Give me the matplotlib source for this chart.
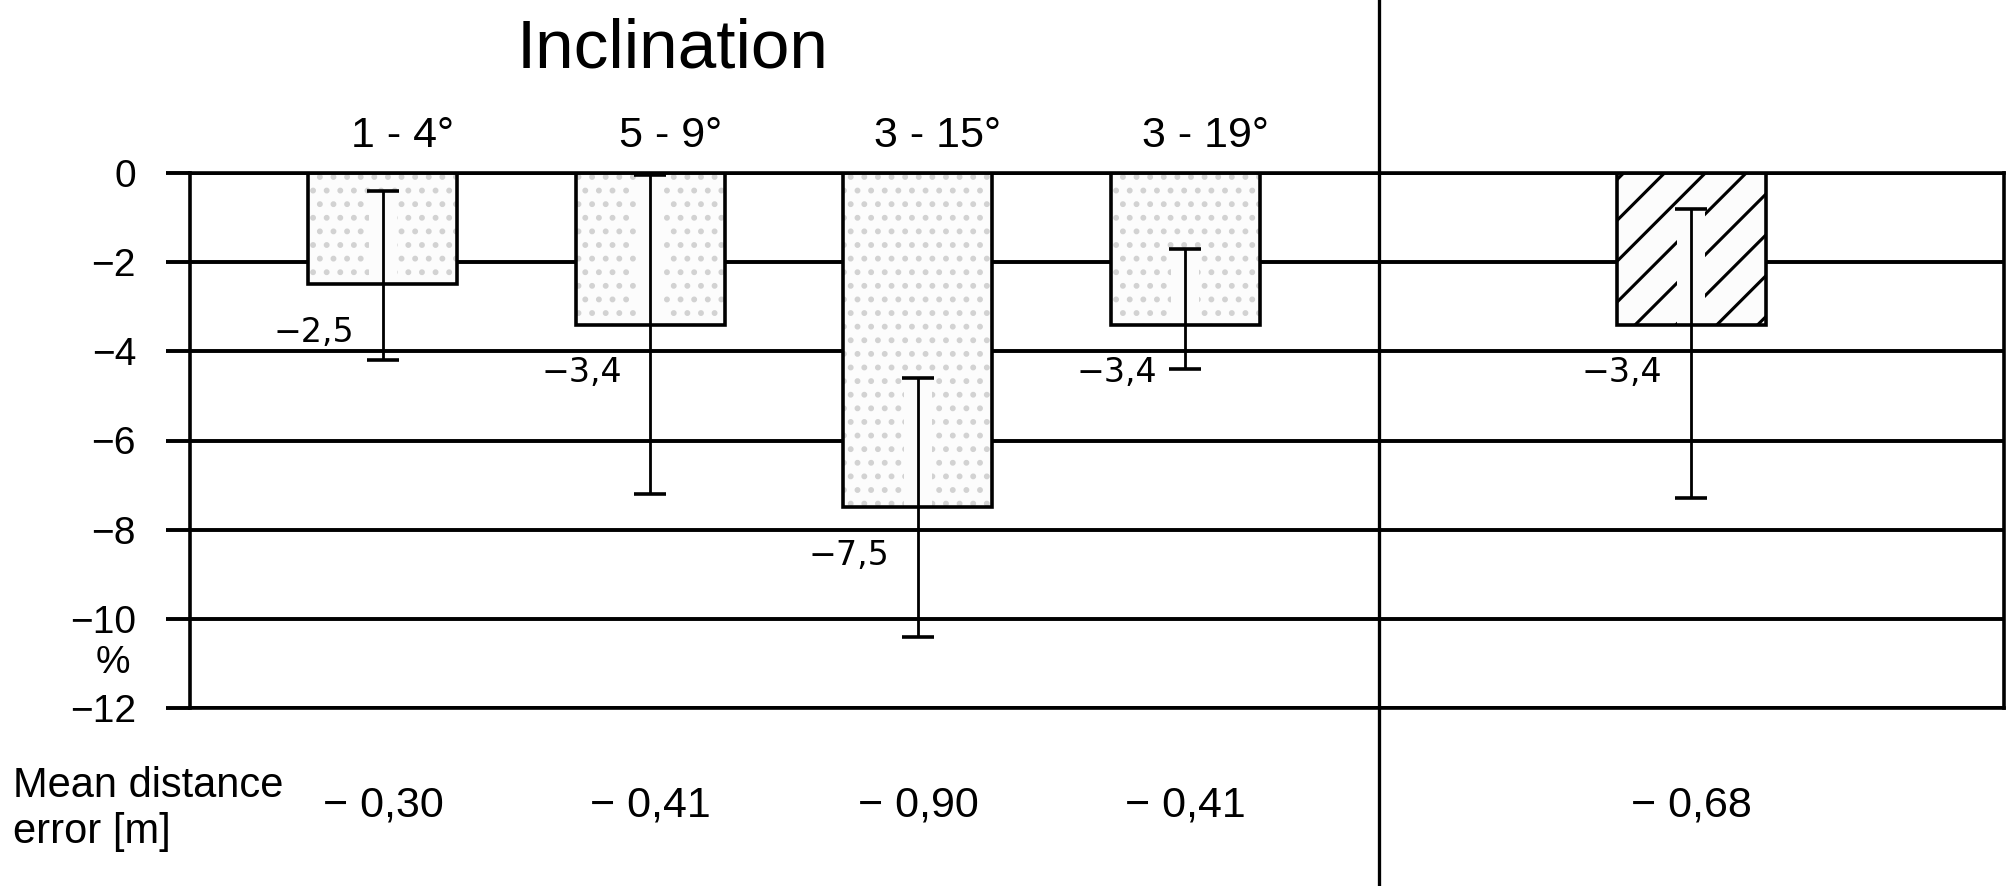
import numpy as np
import matplotlib
matplotlib.use("Agg")
import matplotlib.pyplot as plt
from matplotlib.transforms import blended_transform_factory

# ---- data ----
categories = ["1 - 4°", "5 - 9°", "3 - 15°", "3 - 19°", ""]
bar_values = [-2.5, -3.4, -7.5, -3.4, -3.4]
err_top = [-0.4, -0.05, -4.6, -1.7, -0.8]
err_bottom = [-4.2, -7.2, -10.4, -4.4, -7.3]
mean_distance = [-0.30, -0.41, -0.90, -0.41, -0.68]
y_ticks = [0, -2, -4, -6, -8, -10, -12]

# ---- style / layout (sizes given in pixels, converted to points) ----
DPI = 245


def P(px):
    return px * 72.0 / DPI


plt.rcParams['font.family'] = ['Liberation Sans', 'DejaVu Sans']
plt.rcParams['hatch.linewidth'] = P(3.1)
plt.rcParams['axes.linewidth'] = P(3.6)

fig = plt.figure(figsize=(2010 / DPI, 886 / DPI), dpi=DPI)
fig.patch.set_facecolor('white')
ax = fig.add_axes([190 / 2010, 1 - 708 / 886, (2004 - 190) / 2010, (708 - 173) / 886])

x = np.array([0, 1, 2, 3, 4.89])
width = 0.557
face = '#fcfcfc'

vals = np.array(bar_values)
et = np.array(err_top)
eb = np.array(err_bottom)

# dotted bars
ax.bar(x[:4], vals[:4], width=width, color=face, edgecolor='#d2d2d2',
       linewidth=0, hatch='...', zorder=2)
# hatched bar
ax.bar(x[4:], vals[4:], width=width, color=face, edgecolor='black',
       linewidth=0, hatch='//', zorder=2)
# halo around error bars inside bars
ax.vlines(x, np.maximum(vals, eb), et, colors=face, lw=P(28), zorder=2.5)
# outlines
ax.bar(x, vals, width=width, fill=False, edgecolor='black', linewidth=P(3.6), zorder=3)

# error bars
ax.errorbar(x, vals, yerr=[vals - eb, et - vals], fmt='none', ecolor='black',
            elinewidth=P(2.8), capsize=P(16), capthick=P(3.6), zorder=4)

# value labels
for xi, v in zip(x, bar_values):
    txt = f"{v:.1f}".replace('.', ',').replace('-', '\u2212')
    ax.annotate(txt, (xi, v), xytext=(P(-69), P(-48)), textcoords='offset points',
                ha='center', va='center', fontsize=P(33.3), family='DejaVu Sans', zorder=5)

# category labels above axes
for xi, c in zip(x, categories):
    if c:
        ax.annotate(c, (xi, 0), xytext=(P(20), P(173 - 147)), textcoords='offset points',
                    ha='center', va='baseline', fontsize=P(43), annotation_clip=False)

# axes styling
ax.set_xlim(-0.7215, 6.06)
ax.set_ylim(-12, 0)
ax.set_yticks(y_ticks)
ax.set_yticklabels([str(t).replace('-', '\u2212') for t in y_ticks])
ax.set_xticks([])
ax.yaxis.grid(True, color='black', linewidth=P(3.9))
ax.set_axisbelow(True)
ax.tick_params(axis='y', direction='out', length=P(24), width=P(3.9), pad=P(30),
               labelsize=P(38.9))
for s in ax.spines.values():
    s.set_color('black')
    s.set_linewidth(P(3.6))

# vertical separator across the whole figure
bt = blended_transform_factory(ax.transData, fig.transFigure)
ax.plot([3.723, 3.723], [0, 1], transform=bt, color='black', lw=P(3.3), clip_on=False, zorder=6)

# bottom numbers
for xi, m in zip(x, mean_distance):
    txt = f"{m:.2f}".replace('.', ',').replace('-', '\u2212 ')
    ax.text(xi, 1 - 805 / 886, txt, transform=bt, ha='center', va='center', fontsize=P(43))

fig.text(13 / 2010, 1 - 797 / 886, 'Mean distance', ha='left', va='baseline', fontsize=P(41.7))
fig.text(13 / 2010, 1 - 843 / 886, 'error [m]', ha='left', va='baseline', fontsize=P(41.7))
fig.text(113 / 2010, 1 - 663 / 886, '%', ha='center', va='center', fontsize=P(38.9))
fig.text(673 / 2010, 1 - 67 / 886, 'Inclination', ha='center', va='baseline', fontsize=P(69.4))

fig.savefig('out.png', dpi=DPI, facecolor='white')
